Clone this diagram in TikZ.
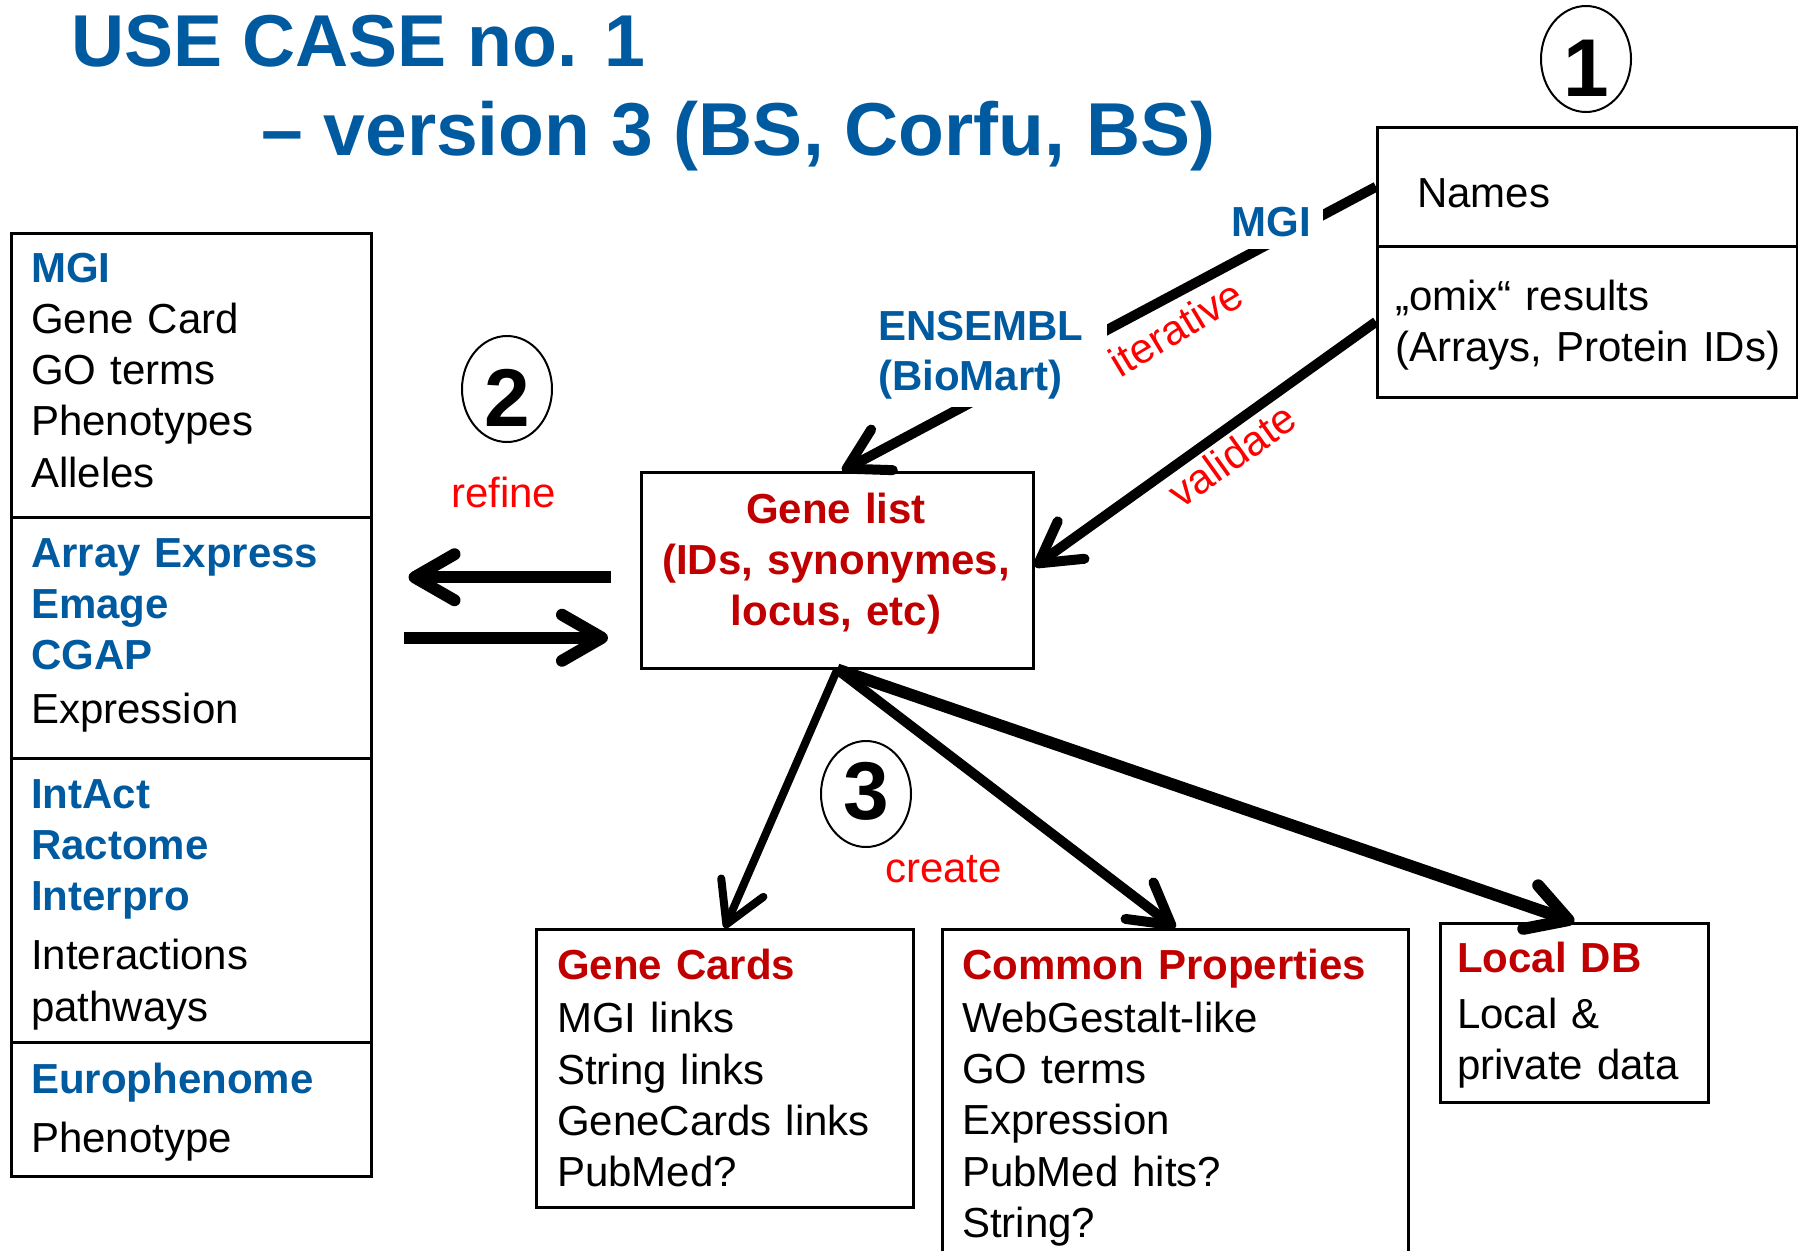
\documentclass[tikz,border=0pt]{standalone}
\usepackage{fontspec}
\setmainfont{Liberation Sans}
\usetikzlibrary{arrows.meta,shapes.geometric,calc}
\definecolor{tblue}{RGB}{0,90,160}
\definecolor{dred}{RGB}{192,0,0}
\definecolor{bred}{RGB}{255,0,0}
\newcommand\bluebf[1]{{\bfseries\color{tblue}#1}}
\newcommand\redbf[1]{{\bfseries\color{dred}#1}}
\newcommand\lowered[2]{\raisebox{#1}[\height][0pt]{#2}}
\tikzset{
  box/.style={draw, line width=2.5pt, anchor=north west, inner sep=0},
  txt/.style={anchor=base west, inner sep=0, text width=#1, align=left,
    font=\fontsize{42}{51.3}\selectfont},
  txt/.default=380,
  lbl/.style={inner sep=0, text=bred, font=\fontsize{42}{42}\selectfont},
  numc/.style={ellipse, draw, line width=2pt, minimum width=90, minimum height=106,
    inner sep=0, font=\fontsize{82}{82}\selectfont\bfseries},
  conn/.style={line width=#1, -{Straight Barb[length=40pt,width=46pt,round]}},
  conn/.default=10pt,
}
\begin{document}
\begin{tikzpicture}[x=1pt,y=-1pt]
\useasboundingbox (0,0) rectangle (1798,1250);
% title
\node[anchor=base west, inner sep=0, text=tblue, font=\fontsize{73.5}{74}\selectfont\bfseries] (title1) at (71,66) {USE CASE no. 1};
\node[anchor=base west, inner sep=0, text=tblue, font=\fontsize{75}{75}\selectfont\bfseries] (title2) at (261,155) {– version 3 (BS, Corfu, BS)};
% circled numbers
\node[numc] (c1) at (1586,59) {\lowered{-9pt}{1}};
\node[numc] (c2) at (507,389) {\lowered{-9pt}{2}};
\node[numc] (c3) at (866,794) {\lowered{3pt}{3}};
% names box
\node[box, minimum width=420, minimum height=119] (namesTop) at (1376,126) {};
\node[box, minimum width=420, minimum height=151] (namesBot) at (1376,245) {};
\node[txt] (nmtxt) at (1417,207) {Names};
\node[txt=400] (omtxt) at (1395,310) {„omix“ results\\(Arrays, Protein IDs)};
% left stack
\node[box, minimum width=360, minimum height=284] (sec1) at (10,232) {};
\node[box, minimum width=360, minimum height=241] (sec2) at (10,516) {};
\node[box, minimum width=360, minimum height=284] (sec3) at (10,757) {};
\node[box, minimum width=360, minimum height=134] (sec4) at (10,1041) {};
\node[txt] (s1txt) at (31,282) {\bluebf{MGI}\\Gene Card\\GO terms\\Phenotypes\\Alleles};
\node[txt] (s2txt) at (31,567) {\bluebf{Array Express}\\\bluebf{Emage}\\\bluebf{CGAP}\\[3pt]Expression};
\node[txt] (s3txt) at (31,808) {\bluebf{IntAct}\\\bluebf{Ractome}\\\bluebf{Interpro}\\[8pt]Interactions\\pathways};
\node[txt] (s4txt) at (31,1093) {\bluebf{Europhenome}\\[8pt]Phenotype};
% gene list
\node[box, minimum width=392, minimum height=196] (genelist) at (640,471) {};
\node[anchor=base, inner sep=0, text width=392, align=center, text=dred,
  font=\fontsize{42}{51}\selectfont\bfseries] (gltxt) at (836,523) {Gene list\\(IDs, synonymes,\\locus, etc)};
% bottom boxes
\node[box, minimum width=377, minimum height=278] (gc) at (535,928) {};
\node[txt] (gctxt) at (557,979) {\redbf{Gene Cards}\\[2.5pt]MGI links\\String links\\GeneCards links\\PubMed?};
\node[box, minimum width=466, minimum height=340] (cp) at (941,928) {};
\node[txt=440] (cptxt) at (962,979) {\redbf{Common Properties}\\[2pt]WebGestalt-like\\GO terms\\Expression\\PubMed hits?\\String?};
\node[box, minimum width=268, minimum height=179] (ldb) at (1439,922) {};
\node[txt=250] (ldbtxt) at (1457,972) {\redbf{Local DB}\\[5pt]Local \&\\private data};
% labels
\node[lbl, anchor=base west] (refine) at (451,507) {refine};
\node[lbl, anchor=base west] (create) at (885,882) {create};
\node[lbl, rotate=31] (iterative) at (1176,328) {iterative};
\node[lbl, rotate=35.6] (validate) at (1232,455) {validate};
% connectors
\draw[conn] (namesTop.west) -- ([xshift=5]genelist.north);
\node[fill=white, inner sep=12, text=tblue, font=\fontsize{42}{42}\selectfont\bfseries] (mgi) at (1271,222) {MGI};
\node[txt=229, fill=white, inner xsep=0, inner ysep=8, text=tblue, font=\fontsize{42}{50}\selectfont\bfseries] (ens) at (878,340) {ENSEMBL\\(BioMart)};
\draw[conn] (namesBot.west) -- ([yshift=4]genelist.east);
\draw[conn=12pt] ($(genelist.west)+(-29,7)$) -- ($(sec2.east |- genelist.west)+(36,7)$);
\draw[conn=12pt] ($(sec2.east)+(31,0)$) -- ($(sec2.east -| genelist.west)+(-32,0)$);
\draw[conn=8pt] (genelist.south) -- (gc.north);
\draw[conn=10pt] (genelist.south) -- (cp.north);
\draw[conn=12pt] (genelist.south) -- (ldb.north);
\end{tikzpicture}
\end{document}
